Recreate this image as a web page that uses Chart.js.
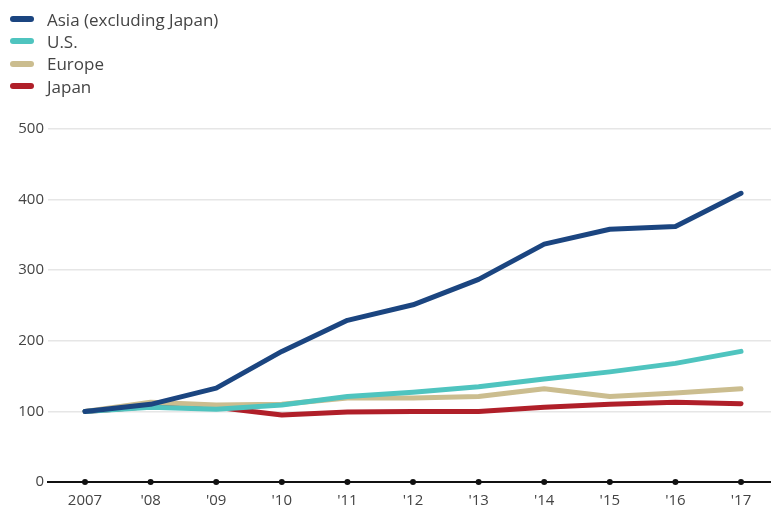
<!DOCTYPE html>
<html>
<head>
<meta charset="utf-8">
<script src="https://cdn.jsdelivr.net/npm/chart.js@4"></script>
<style>
    html, body { margin: 0; padding: 0; background: #fff; }
    #wrap { position: relative; width: 771px; height: 510px; }
    #legend { position: absolute; left: 10px; top: 8px; font-family: 'Open Sans', sans-serif; font-size: 17px; color: #444; }
    .item { display: flex; align-items: center; height: 22.3px; }
    .mark { width: 24px; height: 6px; border-radius: 3px; margin-right: 13px; }
</style>
</head>
<body>
<div id="wrap">
    <canvas id="growth" width="771" height="510"></canvas>
    <div id="legend"></div>
</div>
<script>
const years = [2007, 2008, 2009, 2010, 2011, 2012, 2013, 2014, 2015, 2016, 2017];
const yearLabels = ['2007', "'08", "'09", "'10", "'11", "'12", "'13", "'14", "'15", "'16", "'17"];
const seriesNames = ['Asia (excluding Japan)', 'U.S.', 'Europe', 'Japan'];
const asia = [100, 110, 133, 185, 229, 251, 287, 337, 358, 362, 409];
const us = [100, 106, 103, 109, 121, 127, 135, 146, 156, 168, 185];
const europe = [100, 113, 109, 110, 119, 119, 121, 132, 121, 126, 132];
const japan = [100, 107, 106, 95, 99, 100, 100, 106, 110, 113, 111];
const yTicks = [0, 100, 200, 300, 400, 500];

const colours = ['#1b4580', '#4fc4bf', '#cbbd8f', '#b01f29'];

function pairs(values) {
    return values.map(function (v, i) { return { x: years[i], y: v }; });
}

// black dots on the x axis at every year
const axisDots = {
    id: 'axisDots',
    afterDraw(chart) {
        let ctx = chart.ctx;
        let xs = chart.scales.x;
        let y = chart.scales.y.getPixelForValue(0);
        ctx.save();
        ctx.fillStyle = '#111';
        years.forEach(function (yr) {
            ctx.beginPath();
            ctx.arc(xs.getPixelForValue(yr), y, 3, 0, Math.PI * 2);
            ctx.fill();
        });
        ctx.restore();
    }
};

let ctx = document.getElementById('growth');
let growth = new Chart(ctx, {
    type: 'line',
    data: {
        datasets: [asia, us, europe, japan].map(function (values, index) {
            return {
                label: seriesNames[index],
                data: pairs(values),
                borderColor: colours[index],
                backgroundColor: colours[index],
                borderWidth: 5,
                borderCapStyle: 'round',
                borderJoinStyle: 'round',
                pointRadius: 0,
                tension: 0
            };
        })
    },
    options: {
        responsive: false,
        animation: false,
        layout: { padding: { top: 129, right: 0, bottom: 0, left: 0 } },
        plugins: {
            legend: { display: false },
            tooltip: { enabled: false }
        },
        scales: {
            x: {
                type: 'linear',
                min: 2006.436,
                max: 2017.457,
                afterBuildTicks: function (scale) {
                    scale.ticks = years.map(function (v) { return { value: v }; });
                },
                afterFit: function (scale) { scale.height = 28; },
                ticks: {
                    autoSkip: false,
                    maxRotation: 0,
                    padding: 2,
                    color: '#444',
                    font: { family: 'Open Sans', size: 15 },
                    callback: function (value) {
                        return yearLabels[years.indexOf(value)];
                    }
                },
                grid: { display: false },
                border: { display: true, color: '#111', width: 2 }
            },
            y: {
                min: 0,
                max: 500,
                afterBuildTicks: function (scale) {
                    scale.ticks = yTicks.map(function (v) { return { value: v }; });
                },
                afterFit: function (scale) { scale.width = 48; },
                ticks: {
                    padding: 4,
                    color: '#444',
                    font: { family: 'Open Sans', size: 15 }
                },
                grid: {
                    drawTicks: false,
                    color: function (c) { return c.tick.value === 0 ? 'rgba(0,0,0,0)' : '#e6e6e6'; },
                    lineWidth: 1.5
                },
                border: { display: false }
            }
        }
    },
    plugins: [axisDots]
});

// vertical legend built from the chart's datasets
let legend = document.getElementById('legend');
growth.data.datasets.forEach(function (ds) {
    let item = document.createElement('div');
    item.className = 'item';
    let mark = document.createElement('span');
    mark.className = 'mark';
    mark.style.background = ds.borderColor;
    let text = document.createElement('span');
    text.textContent = ds.label;
    item.appendChild(mark);
    item.appendChild(text);
    legend.appendChild(item);
});
</script>
</body>
</html>
